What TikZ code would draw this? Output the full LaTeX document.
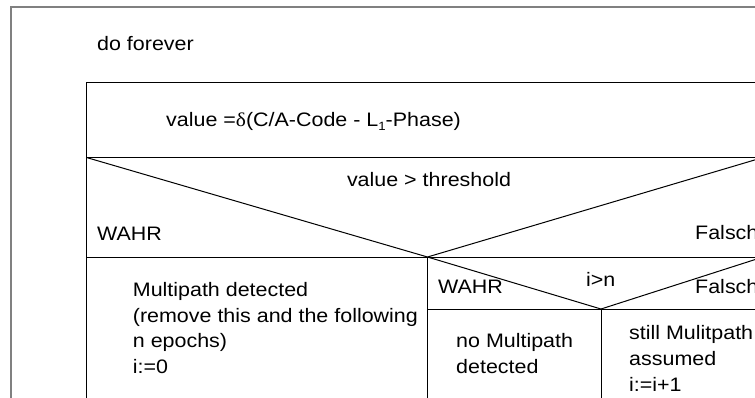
\documentclass[tikz,border=0pt]{standalone}
\usepackage{fontspec}
\setmainfont[FakeStretch=1.1]{Liberation Sans}
\newfontfamily\deltafont[FakeStretch=1.1]{Liberation Serif}
\begin{document}
\begin{tikzpicture}[x=1pt,y=-1pt,
  innerline/.style={draw=black,line width=1pt},
  outerline/.style={draw=gray,line width=1.6pt},
  lbl/.style={inner sep=0pt,anchor=base west,align=left,font=\fontsize{19.5}{25.6}\selectfont},
  clbl/.style={inner sep=0pt,anchor=base,font=\fontsize{19.5}{25.6}\selectfont}]
\useasboundingbox (0,0) rectangle (755,397);
\fill[white] (0,0) rectangle (755,397);
\clip (0,0) rectangle (755,397);
% outer loop box
\coordinate (O1) at (11,7);
\coordinate (O2) at (840,430);
\draw[outerline] (O1) rectangle (O2);
% inner structure coordinates
\coordinate (A)  at (86.5,82);
\coordinate (AR) at (763,82);
\coordinate (AB) at (86.5,430);
\coordinate (ARB) at (763,430);
\coordinate (B)  at (86.5,157.5);
\coordinate (BR) at (763,157.5);
\coordinate (V)  at (427.5,257);
\coordinate (CL) at (86.5,257);
\coordinate (CR) at (763,257);
\coordinate (SL) at (427.5,309);
\coordinate (S)  at (601,309);
\coordinate (SR) at (763,309);
\coordinate (VB) at (427.5,430);
\coordinate (SB) at (601,430);
\draw[innerline] (AB) -- (A) -- (AR) -- (ARB);
\draw[innerline] (B) -- (BR);
\draw[innerline] (CL) -- (CR);
\draw[innerline] (B) -- (V) -- (BR);
\draw[innerline] (V) -- (S) -- (CR);
\draw[innerline] (SL) -- (SR);
\draw[innerline] (V) -- (VB);
\draw[innerline] (S) -- (SB);
% texts (multi-line nodes are anchored at the baseline of their last line)
\node[lbl] (loop) at (97,50.7) {do forever};
\node[lbl] (assign) at (166,126.7) {value =\deltafont δ\rmfamily(C/A-Code - L\raisebox{-0.4ex}{\fontsize{12}{12}\selectfont 1}-Phase)};
\node[clbl] (cond1) at (429,186.7) {value > threshold};
\node[lbl] (yes1) at (97,240) {WAHR};
\node[lbl] (no1) at (695,239) {Falsch};
\node[lbl] (mp) at (132.7,373.5) {Multipath detected\\(remove this and the following\\n epochs)\\i:=0};
\node[lbl] (yes2) at (438,293) {WAHR};
\node[lbl] (cond2) at (586,286.7) {i>n};
\node[lbl] (no2) at (695,293) {Falsch};
\node[lbl] (nomp) at (456,373) {no Multipath\\detected};
\node[lbl] (still) at (629,391) {still Mulitpath\\assumed\\i:=i+1};
\end{tikzpicture}
\end{document}
